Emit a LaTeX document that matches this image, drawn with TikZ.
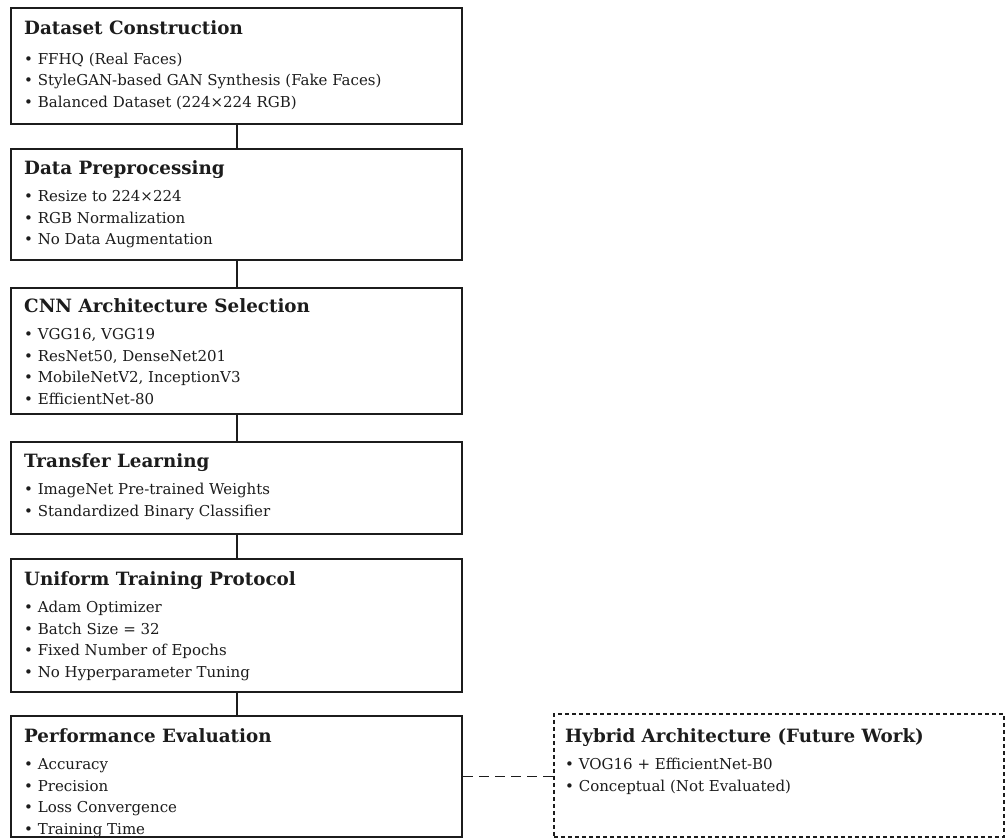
\documentclass[tikz,border=0pt]{standalone}
\usepackage{fontspec}
\setmainfont{DejaVu Serif}
\definecolor{ink}{HTML}{1C1C1C}
\begin{document}
\begin{tikzpicture}[x=1pt,y=-1pt,
  stagebox/.style={draw=ink,line width=2pt,rectangle,minimum width=451pt,inner sep=0pt,anchor=north west},
  futurebox/.style={draw=ink,line width=1.5pt,dash pattern=on 4pt off 3pt,rectangle,inner sep=0pt,anchor=north west},
  txt/.style={anchor=north west,inner sep=0pt,align=left,text=ink,font=\fontsize{15}{21.5}\selectfont},
  link/.style={draw=ink,line width=2pt},
  futurelink/.style={draw=ink,line width=1.5pt,dash pattern=on 10pt off 6pt}]
\useasboundingbox[fill=white] (0,0) rectangle (1005,838);
\newcommand{\ttl}[2][6pt]{{\fontsize{18.3}{21}\selectfont\bfseries #2}\\[#1]}
% boxes
\node[stagebox,minimum height=116pt] (b1) at (10,7) {};
\node[stagebox,minimum height=111pt] (b2) at (10,148) {};
\node[stagebox,minimum height=126pt] (b3) at (10,287) {};
\node[stagebox,minimum height=92pt] (b4) at (10,441) {};
\node[stagebox,minimum height=133pt] (b5) at (10,558) {};
\node[stagebox,minimum height=121pt] (b6) at (10,715) {};
\node[futurebox,minimum width=450pt,minimum height=123pt] (h) at (553,713) {};
% texts
\node[txt] (t1) at (24,20) {\ttl[8.5pt]{Dataset Construction}%
\textbullet\ FFHQ (Real Faces)\\ \textbullet\ StyleGAN-based GAN Synthesis (Fake Faces)\\ \textbullet\ Balanced Dataset (224×224 RGB)};
\node[txt] (t2) at (24,160) {\ttl{Data Preprocessing}%
\textbullet\ Resize to 224×224\\ \textbullet\ RGB Normalization\\ \textbullet\ No Data Augmentation};
\node[txt] (t3) at (24,298) {\ttl{CNN Architecture Selection}%
\textbullet\ VGG16, VGG19\\ \textbullet\ ResNet50, DenseNet201\\ \textbullet\ MobileNetV2, InceptionV3\\ \textbullet\ EfficientNet-80};
\node[txt] (t4) at (24,453) {\ttl{Transfer Learning}%
\textbullet\ ImageNet Pre-trained Weights\\ \textbullet\ Standardized Binary Classifier};
\node[txt] (t5) at (24,571) {\ttl{Uniform Training Protocol}%
\textbullet\ Adam Optimizer\\ \textbullet\ Batch Size = 32\\ \textbullet\ Fixed Number of Epochs\\ \textbullet\ No Hyperparameter Tuning};
\node[txt] (t6) at (24,728) {\ttl{Performance Evaluation}%
\textbullet\ Accuracy\\ \textbullet\ Precision\\ \textbullet\ Loss Convergence\\ \textbullet\ Training Time};
\node[txt] (th) at (565,728) {\ttl{Hybrid Architecture (Future Work)}%
\textbullet\ VOG16 + EfficientNet-B0\\ \textbullet\ Conceptual (Not Evaluated)};
% connectors
\draw[link] (b1.south) -- (b2.north);
\draw[link] (b2.south) -- (b3.north);
\draw[link] (b3.south) -- (b4.north);
\draw[link] (b4.south) -- (b5.north);
\draw[link] (b5.south) -- (b6.north);
\draw[futurelink] (b6.east) -- (b6.east -| h.west);
\end{tikzpicture}
\end{document}
